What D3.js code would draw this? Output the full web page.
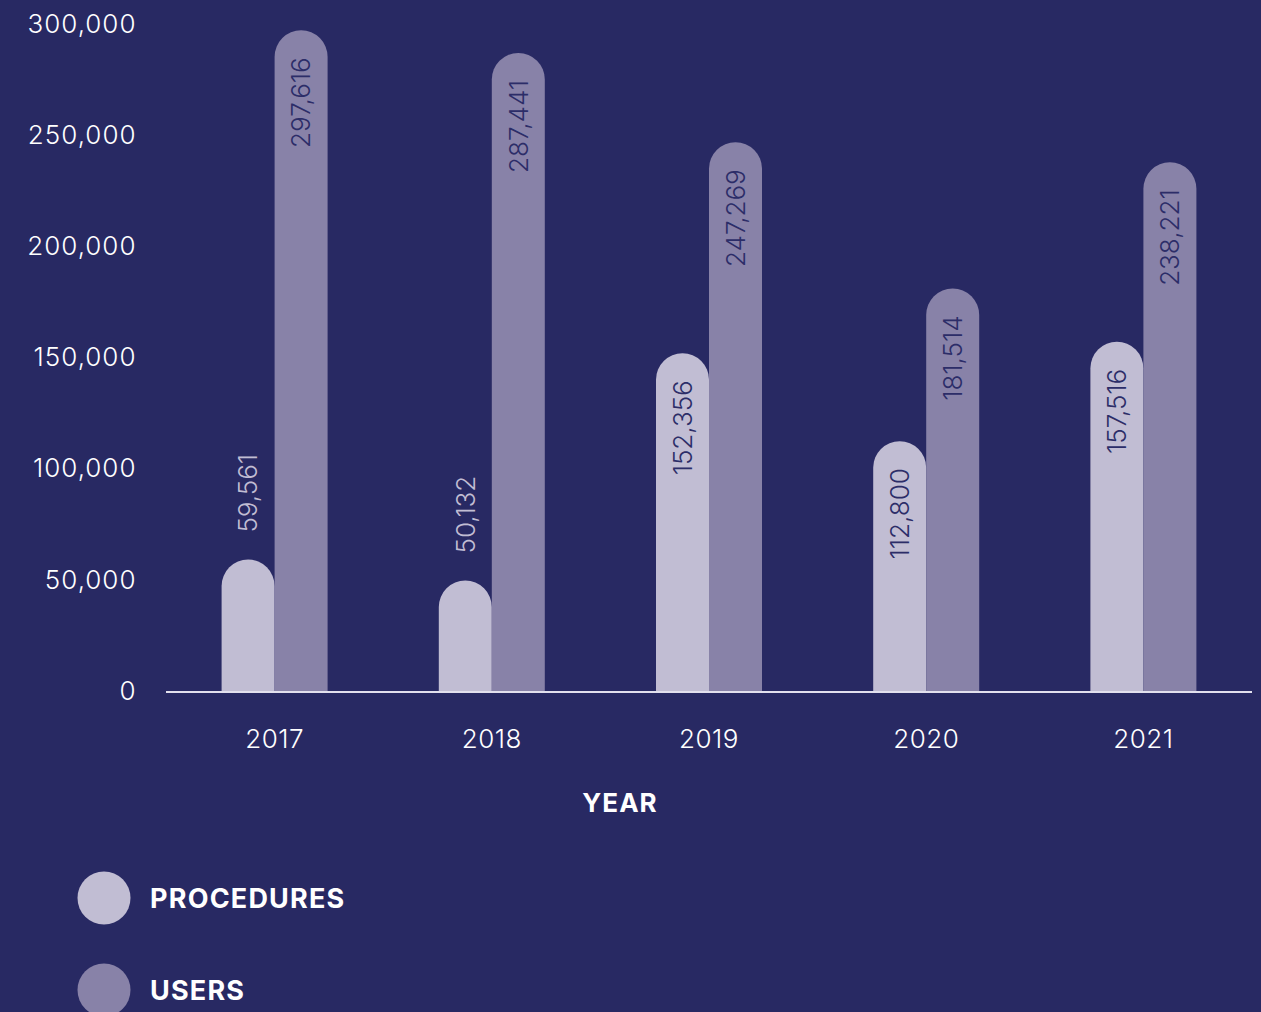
<!DOCTYPE html>
<html>
<head>
<meta charset="utf-8">
<script src="https://cdn.jsdelivr.net/npm/d3@7"></script>
<style>
  html, body { margin: 0; padding: 0; background: #282963; }
  svg { display: block; }
  text { font-family: Inter, "Open Sans", sans-serif; }
</style>
</head>
<body>
<svg id="chart" width="1261" height="1012"></svg>
<script>
// Yearly totals
const years = ["2017", "2018", "2019", "2020", "2021"];
const procedures = [59561, 50132, 152356, 112800, 157516];
const users = [297616, 287441, 247269, 181514, 238221];
const seriesNames = ["PROCEDURES", "USERS"];
const seriesColors = ["#c1bdd3", "#8882a8"];
const yTicks = [0, 50000, 100000, 150000, 200000, 250000, 300000];

const W = 1261, H = 1012;
const bg = "#282963";
const svg = d3.select("#chart");

svg.append("rect").attr("width", W).attr("height", H).attr("fill", bg);

const x = d3.scaleBand().domain(years).range([166, 1252]);
const xs = d3.scaleBand().domain(seriesNames).range([0, 106]);
const y = d3.scaleLinear().domain([0, 300000]).range([692, 25]);
const fmt = d3.format(",");

// y-axis tick labels (no line)
const yAxis = svg.append("g")
  .attr("transform", "translate(136.5,0)")
  .call(d3.axisLeft(y).tickValues(yTicks).tickSize(0).tickPadding(0).tickFormat(fmt));
yAxis.select(".domain").remove();
yAxis.selectAll("text")
  .attr("fill", "#ffffff")
  .attr("font-size", 26)
  .attr("font-weight", 300)
  .attr("letter-spacing", 1)
  .attr("dy", "0.28em")
  .attr("font-family", "Inter, 'Open Sans', sans-serif");

// Bars: rounded top, flat base
const data = [];
years.forEach((yr, i) => {
  data.push({ year: yr, s: 0, v: procedures[i] });
  data.push({ year: yr, s: 1, v: users[i] });
});

const bw = xs.bandwidth();
const r = bw / 2;
const barX = d => x(d.year) + x.bandwidth() / 2 - 53 + xs(seriesNames[d.s]);
function barPath(d) {
  const x0 = barX(d);
  const y0 = y(0), yt = y(d.v);
  return `M${x0},${y0} L${x0},${yt + r} A${r},${r} 0 0 1 ${x0 + bw},${yt + r} L${x0 + bw},${y0} Z`;
}

svg.append("g").selectAll("path")
  .data(data).join("path")
  .attr("d", barPath)
  .attr("fill", d => seriesColors[d.s]);

// Baseline
svg.append("line")
  .attr("x1", 166).attr("x2", 1252)
  .attr("y1", y(0)).attr("y2", y(0))
  .attr("stroke", "#e2e0ee").attr("stroke-width", 2);

// Value labels, rotated; inside the bar when it fits, above it otherwise
const labelSize = 26;
const labelLen = 92;
svg.append("g").selectAll("text")
  .data(data).join("text")
  .each(function (d) {
    const cx = barX(d) + bw / 2;
    const yt = y(d.v);
    const inside = (y(0) - yt) > labelLen + 60;
    const ty = inside ? yt + 27 : yt - 27;
    d3.select(this)
      .attr("transform", `translate(${cx},${ty}) rotate(-90)`)
      .attr("text-anchor", inside ? "end" : "start")
      .attr("dy", "0.36em")
      .attr("font-size", labelSize)
      .attr("font-weight", 300)
      .attr("fill", inside ? "#2c2d68" : seriesColors[d.s])
      .text(fmt(d.v));
  });

// x-axis labels
const xAxis = svg.append("g")
  .attr("transform", `translate(0,${y(0)})`)
  .call(d3.axisBottom(x).tickSize(0).tickPadding(38));
xAxis.select(".domain").remove();
xAxis.selectAll("text")
  .attr("fill", "#ffffff")
  .attr("font-size", 26)
  .attr("font-weight", 300)
  .attr("letter-spacing", 0.5)
  .attr("font-family", "Inter, 'Open Sans', sans-serif");

// Axis title
svg.append("text")
  .attr("x", 620).attr("y", 812)
  .attr("text-anchor", "middle")
  .attr("font-size", 26)
  .attr("font-weight", 700)
  .attr("letter-spacing", 1)
  .attr("fill", "#ffffff")
  .text("YEAR");

// Legend
const legend = svg.append("g").selectAll("g")
  .data(seriesNames).join("g")
  .attr("transform", (d, i) => `translate(104,${898 + i * 92})`);
legend.append("circle").attr("r", 26.5).attr("fill", (d, i) => seriesColors[i]);
legend.append("text")
  .attr("x", 46).attr("dy", "0.36em")
  .attr("font-size", 27)
  .attr("font-weight", 700)
  .attr("letter-spacing", 1.2)
  .attr("fill", "#ffffff")
  .text(d => d);
</script>
</body>
</html>
